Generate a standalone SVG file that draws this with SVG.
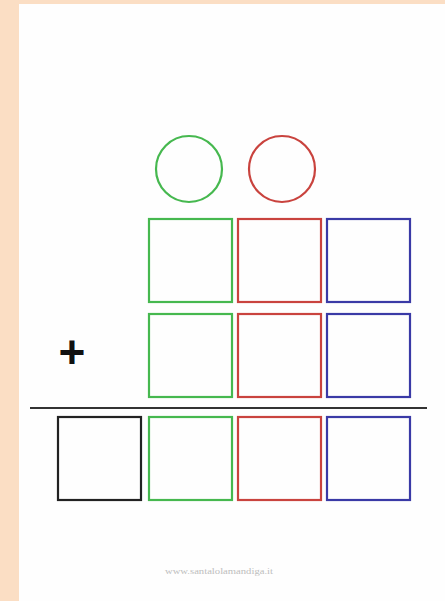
<svg xmlns="http://www.w3.org/2000/svg" width="445" height="601" viewBox="0 0 445 601">
<style>
.box{fill:none;stroke-width:2.2}
.g{stroke:#46b84f}
.r{stroke:#c9433e}
.b{stroke:#3a3aa6}
.k{stroke:#222}
</style>
<rect x="0" y="0" width="445" height="601" fill="#fbdec4"/>
<rect x="19" y="4" width="426" height="597" fill="#fefefe"/>
<g id="circle-green"><circle cx="189" cy="169" r="33" class="box g"/></g>
<g id="circle-red"><circle cx="282" cy="169" r="33" class="box r"/></g>
<g id="row1">
<rect x="149" y="219" width="83" height="83" class="box g"/>
<rect x="238" y="219" width="83" height="83" class="box r"/>
<rect x="327" y="219" width="83" height="83" class="box b"/>
</g>
<g id="row2">
<rect x="149" y="314" width="83" height="83" class="box g"/>
<rect x="238" y="314" width="83" height="83" class="box r"/>
<rect x="327" y="314" width="83" height="83" class="box b"/>
</g>
<g id="plus"><text x="72" y="368" font-family="Liberation Sans, Arial, sans-serif" font-size="46" font-weight="bold" text-anchor="middle" fill="#111">+</text></g>
<g id="line"><line x1="30" y1="408" x2="427" y2="408" stroke="#333" stroke-width="2"/></g>
<g id="row3">
<rect x="58" y="417" width="83" height="83" class="box k"/>
<rect x="149" y="417" width="83" height="83" class="box g"/>
<rect x="238" y="417" width="83" height="83" class="box r"/>
<rect x="327" y="417" width="83" height="83" class="box b"/>
</g>
<g id="footer"><text x="219" y="574" font-family="Liberation Serif, serif" font-size="8" text-anchor="middle" fill="#bdbdbd" textLength="108" lengthAdjust="spacingAndGlyphs">www.santalolamandiga.it</text></g>
</svg>
